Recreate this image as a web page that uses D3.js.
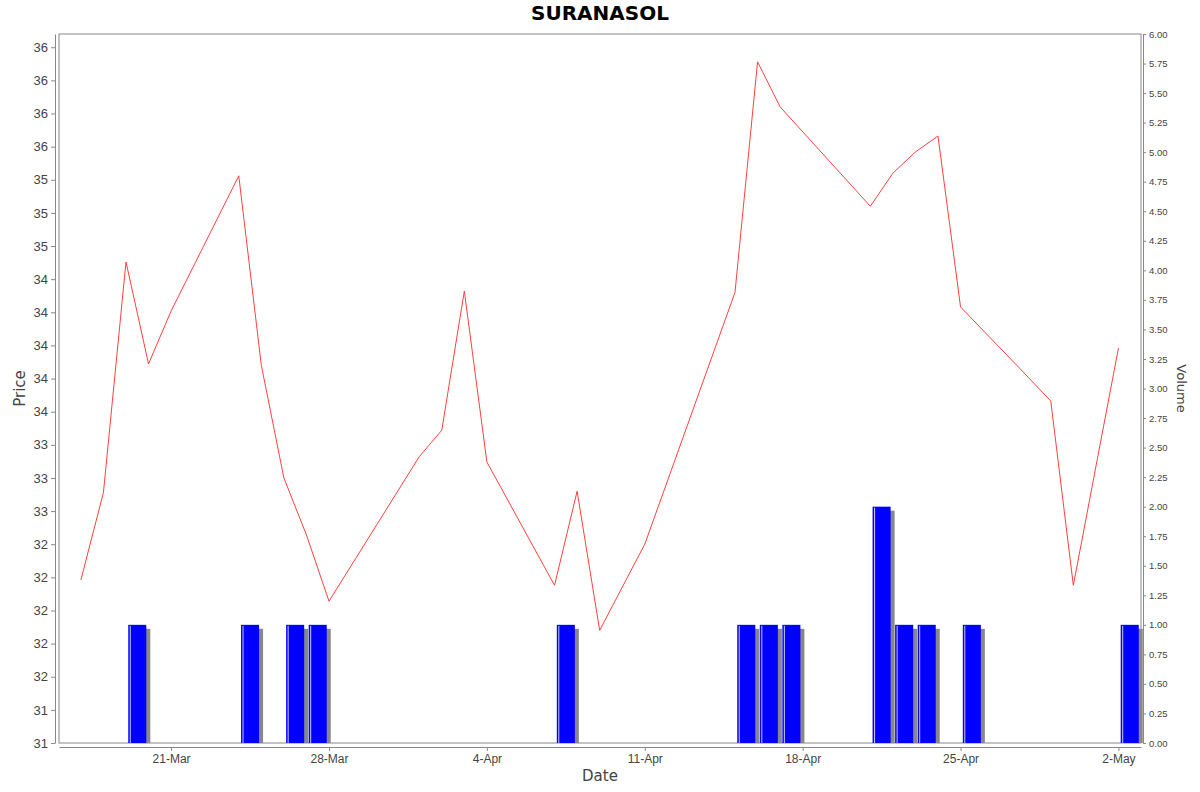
<!DOCTYPE html>
<html><head><meta charset="utf-8">
<script src="https://cdn.jsdelivr.net/npm/d3@7"></script>
<style>body{margin:0;background:#fff}</style>
</head><body><div id="canvas"></div>
<script>
const priceDates = ["2025-03-17","2025-03-18","2025-03-19","2025-03-20","2025-03-21","2025-03-24","2025-03-25","2025-03-26","2025-03-27","2025-03-28","2025-04-01","2025-04-02","2025-04-03","2025-04-04","2025-04-07","2025-04-08","2025-04-09","2025-04-11","2025-04-15","2025-04-16","2025-04-17","2025-04-21","2025-04-22","2025-04-23","2025-04-24","2025-04-25","2025-04-28","2025-04-29","2025-04-30","2025-05-02"];
const prices = [32.23,32.89,34.63,33.86,34.26,35.28,33.85,33.0,32.57,32.07,33.16,33.36,34.41,33.12,32.19,32.90,31.85,32.50,34.40,36.14,35.80,35.05,35.30,35.46,35.58,34.29,33.76,33.58,32.19,33.98];
const volDates = ["2025-03-19","2025-03-24","2025-03-26","2025-03-27","2025-04-07","2025-04-15","2025-04-16","2025-04-17","2025-04-21","2025-04-22","2025-04-23","2025-04-25","2025-05-02"];
const volumes = [1,1,1,1,1,1,1,1,2,1,1,1,1];
const xTicks = ["2025-03-21","2025-03-28","2025-04-04","2025-04-11","2025-04-18","2025-04-25","2025-05-02"];

const width = 1200, height = 792;
const margin = { top: 34, right: 59, bottom: 49, left: 59 };
const inWidth = width - margin.left - margin.right;
const inHeight = height - margin.top - margin.bottom;
const parse = d3.timeParse("%Y-%m-%d");
const DAY = 864e5;

const svg = d3.select("#canvas").append("svg").attr("width", width).attr("height", height)
  .style("font-family", "DejaVu Sans");

const xScale = d3.scaleTime()
  .domain([new Date(+parse("2025-03-16") + 0.03 * DAY), parse("2025-05-03")])
  .range([0, inWidth]);
const yScale = d3.scaleLinear().domain([31, 36.35]).range([inHeight, 0]);
const vScale = d3.scaleLinear().domain([0, 6]).range([inHeight, 0]);

const g = svg.append("g").attr("transform", `translate(${margin.left},${margin.top})`);

g.append("rect").attr("width", inWidth).attr("height", inHeight)
  .attr("fill", "#fff").attr("stroke", "#888");

svg.append("text").attr("x", width / 2).attr("y", 20).attr("text-anchor", "middle")
  .attr("font-weight", "bold").attr("font-size", 20).text("SURANASOL");

// volume bars
const vol = volDates.map((d, i) => ({ date: parse(d), v: volumes[i] }));
const bx = (d) => xScale(new Date(+d.date + 0.1 * DAY));
const bw = xScale(new Date(+parse("2025-03-16") + 0.8 * DAY)) - xScale(parse("2025-03-16"));
g.selectAll(".shadow").data(vol).enter().append("rect")
  .attr("x", (d) => bx(d) + 4).attr("y", (d) => vScale(d.v) + 4)
  .attr("width", bw).attr("height", (d) => inHeight - vScale(d.v) - 4).attr("fill", "#888");
g.selectAll(".bar").data(vol).enter().append("rect")
  .attr("x", bx).attr("y", (d) => vScale(d.v))
  .attr("width", bw).attr("height", (d) => inHeight - vScale(d.v)).attr("fill", "#0000ff");
g.selectAll(".hl").data(vol).enter().append("line")
  .attr("x1", (d) => bx(d) + 2).attr("x2", (d) => bx(d) + 2)
  .attr("y1", (d) => vScale(d.v) + 1).attr("y2", inHeight)
  .attr("stroke", "#ccd").attr("stroke-width", 1);

// price line
const pts = priceDates.map((d, i) => ({ date: parse(d), p: prices[i] }));
g.append("path").datum(pts).attr("fill", "none").attr("stroke", "#ff4040").attr("stroke-width", 1)
  .attr("d", d3.line().x((d) => xScale(d.date)).y((d) => yScale(d.p)));

// axes
const left = d3.axisLeft(yScale).tickValues(d3.range(31, 36.3, 0.25))
  .tickFormat((v) => { const r = Math.round(v); return (Math.abs(v - Math.floor(v) - 0.5) < 1e-9 && r % 2 === 1) ? r - 1 : r; })
  .tickSizeOuter(0).tickSizeInner(4);
const ga = g.append("g").attr("transform", "translate(-4,0)").call(left);
ga.selectAll("text").attr("font-size", 13).attr("fill", "#444");

const right = d3.axisRight(vScale).tickValues(d3.range(0, 6.01, 0.25)).tickFormat(d3.format(".2f"))
  .tickSizeOuter(0).tickSizeInner(3);
const gr = g.append("g").attr("transform", `translate(${inWidth + 2},0)`).call(right);
gr.selectAll("text").attr("font-size", 9.5).attr("fill", "#444");

const bottom = d3.axisBottom(xScale).tickValues(xTicks.map(parse))
  .tickFormat(d3.timeFormat("%-d-%b")).tickSizeOuter(0).tickSizeInner(4);
const gb = g.append("g").attr("transform", `translate(0,${inHeight + 4})`).call(bottom);
gb.selectAll("text").attr("font-size", 12).attr("fill", "#444");
[ga, gr, gb].forEach((a) => a.selectAll("path,line").attr("stroke", "#888"));

svg.append("text").attr("transform", `translate(25,${margin.top + inHeight / 2}) rotate(-90)`)
  .attr("text-anchor", "middle").attr("font-size", 15).attr("fill", "#444").text("Price");
svg.append("text").attr("transform", `translate(1177,${margin.top + inHeight / 2}) rotate(90)`)
  .attr("text-anchor", "middle").attr("font-size", 13).attr("fill", "#444").text("Volume");
svg.append("text").attr("x", margin.left + inWidth / 2).attr("y", 781).attr("text-anchor", "middle")
  .attr("font-size", 15).attr("fill", "#444").text("Date");
</script></body></html>
